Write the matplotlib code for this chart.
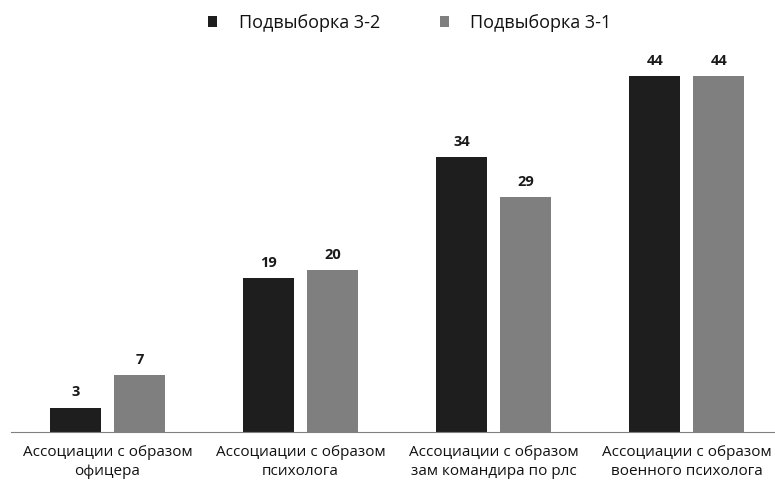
import matplotlib
matplotlib.use("Agg")
import matplotlib.pyplot as plt
import numpy as np

categories = ["Ассоциации с образом\nофицера", "Ассоциации с образом\nпсихолога",
              "Ассоциации с образом\nзам командира по рлс", "Ассоциации с образом\nвоенного психолога"]
series_names = ["Подвыборка 3-2", "Подвыборка 3-1"]
values_32 = [3, 19, 34, 44]
values_31 = [7, 20, 29, 44]

plt.rcParams['font.family'] = ['Open Sans', 'DejaVu Sans']

fig = plt.figure(figsize=(7.75, 4.86), dpi=100)
ax = fig.add_axes([11/775, 54/486, 772/775, (432-27.5)/486])

x = np.arange(len(categories))
w = 0.264
colors = ["#1e1e1e", "#7f7f7f"]
b1 = ax.bar(x - 0.165, values_32, w, color=colors[0], label=series_names[0])
b2 = ax.bar(x + 0.167, values_31, w, color=colors[1], label=series_names[1])
for bars in (b1, b2):
    for r in bars:
        ax.annotate(f"{int(r.get_height())}", (r.get_x() + r.get_width()/2, r.get_height()),
                    xytext=(0, 6), textcoords="offset points", ha="center", va="bottom",
                    fontsize=10.5, fontweight="bold", color="#1a1a1a")

ax.set_xlim(-0.5, 3.5)
ax.set_ylim(0, 50)
ax.set_xticks(x)
ax.set_xticklabels(categories, fontsize=11, linespacing=1.45, color="#111111")
ax.tick_params(axis='x', length=0, pad=9)
ax.set_yticks([])
for s in ["top", "right", "left"]:
    ax.spines[s].set_visible(False)
ax.spines["bottom"].set_color("#808080")

leg = fig.legend(handles=[b1, b2], labels=series_names, loc="center", bbox_to_anchor=(410/775, 1-23/486),
                 ncol=2, frameon=False, fontsize=13, handlelength=0.5, handleheight=0.5,
                 handletextpad=1.2, columnspacing=3.3, labelcolor="#111111")
fig.savefig("out.png", dpi=100)
